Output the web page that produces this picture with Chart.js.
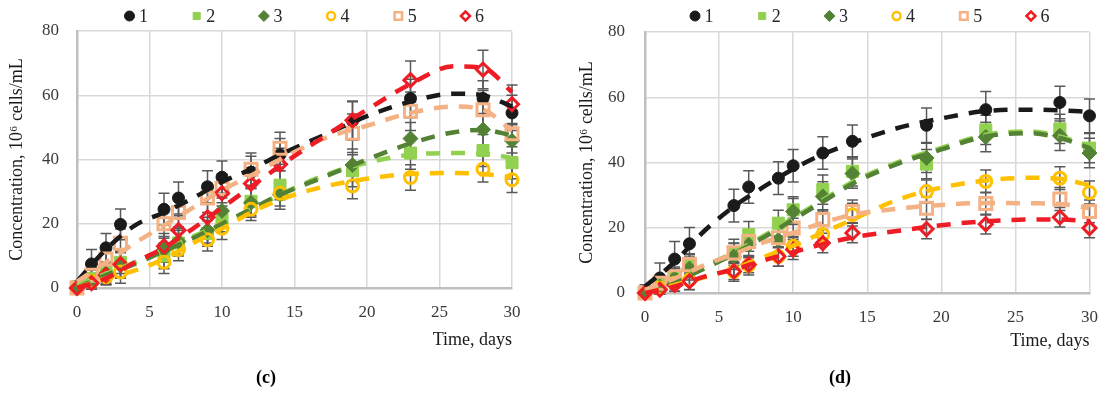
<!DOCTYPE html>
<html><head><meta charset="utf-8">
<script src="https://cdn.jsdelivr.net/npm/chart.js@4/dist/chart.umd.min.js"></script>
<style>
html,body{margin:0;padding:0;background:#fff;}
#wrap{position:relative;width:1112px;height:393px;overflow:hidden;}
canvas{position:absolute;top:0;}
#cL{left:0;} #cR{left:556px;}
</style></head><body>
<div id="wrap"><canvas id="cL" width="556" height="393"></canvas><canvas id="cR" width="556" height="393"></canvas></div>
<script>
// ---------- data ----------
const days = [0, 1, 2, 3, 6, 7, 9, 10, 12, 14, 19, 23, 28, 30];
const trendDays = [0, 2, 4, 6, 8, 10, 12, 14, 17, 20, 23, 26, 28, 30];
const seriesNames = ['1', '2', '3', '4', '5', '6'];
const xTicks = [0, 5, 10, 15, 20, 25, 30];
const yTicks = [0, 20, 40, 60, 80];

// panel (c) means
const c1 = [0.5, 7.5, 12.5, 19.8, 24.5, 28, 31.5, 34.5, 36, 41.5, 52, 59, 59, 54.5];
const c2 = [0, 3, 5, 8, 10, 14, 17, 21.5, 27, 32, 36.5, 42, 42.8, 39];
const c3 = [0, 2, 4.5, 7, 12, 14.5, 18, 24, 26.5, 29, 38.3, 46.5, 49.3, 45.8];
const c4 = [0, 2, 3.5, 5, 8, 12, 15, 18.6, 24.5, 29.5, 31.8, 34.4, 37, 33.7];
const c5 = [0, 4, 9, 13.9, 20, 23.5, 28, 31, 37, 43.5, 48.2, 55, 55.5, 48];
const c6 = [0, 1.5, 4, 7.4, 13, 18, 22, 29.5, 32.5, 38.5, 52.2, 64.7, 68, 57.2];
// panel (c) error (±)
const eC1 = [1.5, 4.5, 4.5, 4.8, 5, 5, 5, 5, 5, 5, 6, 6, 5.5, 5.5];
const eC2 = [1.5, 2.5, 3, 3.5, 4, 4, 4, 4, 4.5, 4.5, 5, 5, 5, 5];
const eC3 = [1.5, 2.5, 3, 4, 4, 4, 4, 4, 4.5, 4.5, 5, 5, 5, 5];
const eC4 = [1.5, 2, 2.5, 3.5, 3.5, 3.5, 3.5, 3.5, 3.5, 4, 4, 4, 4, 4];
const eC5 = [2, 3, 4, 4.5, 4.5, 4.5, 4.5, 4.5, 5, 5, 6, 6, 6, 6];
const eC6 = [1.5, 2.5, 3, 4, 4, 4.5, 4.5, 5, 5, 5, 6, 6, 6, 6];
// panel (c) trend lines
const tC1 = [2, 12, 19.5, 23.5, 28, 33, 37, 41.5, 47.5, 53.5, 58, 60.5, 60, 56.5];
const tC2 = [1, 4.5, 8, 12, 16, 20, 24.5, 29, 35, 39, 41.5, 42, 41.8, 40.5];
const tC3 = [0, 4, 7.5, 11.5, 15.5, 20, 24.5, 29, 34.5, 40, 45, 48.5, 49.2, 47.5];
const tC4 = [0, 3, 5.5, 9, 14, 18.5, 23.5, 27.5, 31.5, 34, 35.5, 35.8, 35.5, 34.5];
const tC5 = [2, 8, 14, 19.5, 25, 30.5, 35, 40, 46.5, 50.5, 54.5, 56.5, 55.5, 49];
const tC6 = [0, 3, 8, 12.5, 18.5, 25, 31.5, 38, 47, 55.5, 63.5, 69, 68.5, 61];

// panel (d) means
const d1 = [0.5, 4.6, 10.4, 15.1, 26.8, 32.5, 35.2, 39, 42.9, 46.5, 51.4, 56.2, 58.4, 54.3];
const d2 = [0, 2.5, 5, 8.5, 12.5, 17.9, 21.4, 25.5, 31.7, 37.3, 39.5, 50, 50.3, 44.4];
const d3 = [0, 2, 4.5, 7.5, 11.2, 14.8, 16.3, 25, 29.6, 36.6, 41.4, 47.8, 48.2, 42.9];
const d4 = [0, 1.5, 3, 4, 6.6, 8.5, 11.2, 14.3, 17.9, 24, 31.1, 34.2, 35.2, 30.8];
const d5 = [0, 3, 5, 8.7, 12.3, 15.8, 16.9, 19.9, 22.5, 25, 26, 27.4, 28.8, 25];
const d6 = [0, 1, 2.5, 3.6, 6.6, 8.7, 11.2, 13.3, 15.3, 18.4, 19.6, 21.1, 23.2, 19.9];
// panel (d) error (±)
const eD1 = [2, 4.6, 5.4, 5, 5, 5, 5, 5, 5, 5, 5.3, 5.6, 5, 5.2];
const eD2 = [1.5, 2.5, 3, 3.5, 4, 4, 4, 4, 4.5, 4.5, 4.5, 4.5, 4.5, 4.5];
const eD3 = [1.5, 2.5, 3, 3.5, 4, 4, 4, 4, 4.5, 4.5, 4.5, 4.5, 4.5, 4.5];
const eD4 = [1.5, 2, 2.5, 3, 3, 3, 3, 3, 3, 3.5, 3.5, 3.5, 3.5, 3.5];
const eD5 = [1.5, 2, 2.5, 3, 3, 3, 3, 3, 3, 3.5, 3.5, 3.5, 3.5, 3.5];
const eD6 = [1.5, 1.5, 2, 2.5, 2.5, 2.5, 3, 3, 3, 3, 3, 3, 3, 3];
// panel (d) trend lines
const tD1 = [2, 9.5, 19, 26.5, 32.5, 38, 42.5, 46, 50.5, 53.5, 55.8, 56.2, 56, 55.5];
const tD2 = [0, 4, 8.2, 12.5, 17.5, 23, 28.5, 34, 40, 44.5, 48.5, 49.5, 48, 45];
const tD3 = [0, 3.5, 7.5, 12, 17, 22.5, 28, 33.5, 39.5, 44, 48, 49, 47.5, 44.5];
const tD4 = [0, 2.5, 4.8, 7.5, 11, 14.5, 18.5, 22.5, 28.5, 32.3, 34.5, 35.3, 35, 33];
const tD5 = [1, 4.5, 8.5, 12, 15.5, 18.5, 21.5, 24, 25.8, 27, 27.6, 27.5, 27.3, 26];
const tD6 = [0, 2, 5, 7.2, 10, 12.5, 15, 17, 19, 20.8, 22, 22.5, 22.5, 22];

// ---------- styles ----------
const FONT = "'Liberation Serif', 'DejaVu Serif', serif";
const seriesStyle = [
  {color: '#1A1A1A', ps: 'circle',  r: 6,   fill: true,  bw: 1, lr: 5,   lbw: 1},
  {color: '#92D050', ps: 'rect',    r: 8.5, fill: true,  bw: 1, lr: 5,   lbw: 1},
  {color: '#548235', ps: 'rectRot', r: 7.5, fill: true,  bw: 1, lr: 5.5, lbw: 1},
  {color: '#FFC000', ps: 'circle',  r: 6,   fill: false, bw: 3, lr: 4,   lbw: 2.5},
  {color: '#F4B183', ps: 'rect',    r: 8.5, fill: false, bw: 3, lr: 5.3, lbw: 2.5},
  {color: '#EE1C25', ps: 'rectRot', r: 6.5, fill: false, bw: 3, lr: 4.5, lbw: 2.5}
];

function drawMarker(ctx, st, x, y, r, bw) {
  ctx.beginPath();
  if (st.ps === 'circle') ctx.arc(x, y, r, 0, Math.PI * 2);
  else if (st.ps === 'rect') { const s = r * Math.SQRT1_2; ctx.rect(x - s, y - s, 2 * s, 2 * s); }
  else { ctx.moveTo(x - r, y); ctx.lineTo(x, y - r); ctx.lineTo(x + r, y); ctx.lineTo(x, y + r); ctx.closePath(); }
  if (st.fill) { ctx.fillStyle = st.color; ctx.fill(); }
  ctx.strokeStyle = st.color; ctx.lineWidth = bw; ctx.stroke();
}

function makePanel(canvasId, means, errs, trends, label, lay) {
  const datasets = [];
  means.forEach((vals, i) => {
    const st = seriesStyle[i];
    datasets.push({
      type: 'line', label: seriesNames[i],
      data: days.map((t, k) => ({x: t, y: vals[k]})),
      showLine: false, clip: false,
      pointStyle: st.ps, pointRadius: st.r, pointHoverRadius: st.r,
      pointBackgroundColor: st.fill ? st.color : 'rgba(0,0,0,0)',
      pointBorderColor: st.color, pointBorderWidth: st.bw,
      order: 10 + (5 - i)
    });
  });
  trends.forEach((vals, i) => {
    const st = seriesStyle[i];
    datasets.push({
      type: 'line', label: 'trend ' + seriesNames[i],
      data: trendDays.map((t, k) => ({x: t, y: vals[k]})),
      borderColor: st.color, borderWidth: 4.5, borderDash: [14, 11],
      borderCapStyle: 'butt', pointRadius: 0, pointHoverRadius: 0,
      cubicInterpolationMode: 'monotone', fill: false, clip: 8,
      order: 5 - i
    });
  });

  const panelPlugin = {
    id: 'panelExtras_' + canvasId,
    beforeDatasetsDraw(chart) {
      const ctx = chart.ctx, xs = chart.scales.x, ys = chart.scales.y, a = chart.chartArea;
      ctx.save();
      ctx.beginPath(); ctx.rect(a.left - 10, a.top - 10, a.right - a.left + 20, a.bottom - a.top + 12); ctx.clip();
      ctx.strokeStyle = '#595959'; ctx.lineWidth = 1.5;
      means.forEach((vals, si) => {
        vals.forEach((v, k) => {
          const e = errs[si][k];
          const px = xs.getPixelForValue(days[k]);
          const y1 = ys.getPixelForValue(v - e), y2 = ys.getPixelForValue(v + e);
          ctx.beginPath();
          ctx.moveTo(px, y1); ctx.lineTo(px, y2);
          ctx.moveTo(px - 5.5, y1); ctx.lineTo(px + 5.5, y1);
          ctx.moveTo(px - 5.5, y2); ctx.lineTo(px + 5.5, y2);
          ctx.stroke();
        });
      });
      ctx.restore();
    },
    afterDraw(chart) {
      const ctx = chart.ctx;
      ctx.save();
      // legend
      ctx.font = '18px ' + FONT; ctx.fillStyle = '#262626';
      ctx.textBaseline = 'middle'; ctx.textAlign = 'left';
      seriesStyle.forEach((st, i) => {
        const x = lay.legX + i * 67.2;
        drawMarker(ctx, st, x, lay.legY, st.lr, st.lbw);
        ctx.fillStyle = '#262626';
        ctx.fillText(seriesNames[i], x + 9.5, lay.legY + 1);
      });
      // panel label
      ctx.font = 'bold 18px ' + FONT; ctx.textAlign = 'center'; ctx.fillStyle = '#000';
      ctx.fillText(label, lay.labX, 378);
      ctx.restore();
    }
  };

  const tickFont = {family: FONT, size: 17};
  const titleFont = {family: FONT, size: 18};
  return new Chart(document.getElementById(canvasId), {
    data: {datasets},
    options: {
      responsive: false, animation: false, devicePixelRatio: 1, events: [],
      layout: {padding: {left: 0, top: lay.top, right: 556 - lay.right, bottom: 393 - lay.bottom - lay.xH}},
      plugins: {legend: {display: false}, tooltip: {enabled: false}, title: {display: false}},
      scales: {
        x: {
          type: 'linear', min: 0, max: 30,
          afterBuildTicks: s => { s.ticks = xTicks.map(v => ({value: v})); },
          afterFit: s => { s.height = lay.xH; },
          ticks: {font: tickFont, color: '#3A3A3A', padding: lay.xPad},
          grid: {color: '#D9D9D9', lineWidth: 1.5, drawTicks: false},
          border: {color: '#BFBFBF', width: 2.5},
          title: {display: true, text: 'Time, days', align: 'end', font: titleFont, color: '#1A1A1A', padding: {top: 0, bottom: 2}}
        },
        y: {
          type: 'linear', min: 0, max: 80,
          afterBuildTicks: s => { s.ticks = yTicks.map(v => ({value: v})); },
          afterFit: s => { s.width = lay.left; },
          ticks: {font: tickFont, color: '#3A3A3A', padding: lay.yPad},
          grid: {color: '#D9D9D9', lineWidth: 1.5, drawTicks: false},
          border: {color: '#BFBFBF', width: 2.5},
          title: {display: true, text: 'Concentration, 10\u2076 cells/mL', font: titleFont, color: '#1A1A1A', padding: {top: lay.yTitlePad, bottom: 0}}
        }
      }
    },
    plugins: [panelPlugin]
  });
}

makePanel('cL', [c1, c2, c3, c4, c5, c6], [eC1, eC2, eC3, eC4, eC5, eC6], [tC1, tC2, tC3, tC4, tC5, tC6], '(c)',
  {left: 77, right: 512, top: 31, bottom: 288, xH: 64.8, xPad: 14, yPad: 18, yTitlePad: 6, legX: 129.5, legY: 16, labX: 266});
makePanel('cR', [d1, d2, d3, d4, d5, d6], [eD1, eD2, eD3, eD4, eD5, eD6], [tD1, tD2, tD3, tD4, tD5, tD6], '(d)',
  {left: 89, right: 535, top: 32, bottom: 293, xH: 61.5, xPad: 14, yPad: 20, yTitlePad: 20, legX: 139, legY: 16, labX: 284});
</script>
</body></html>
